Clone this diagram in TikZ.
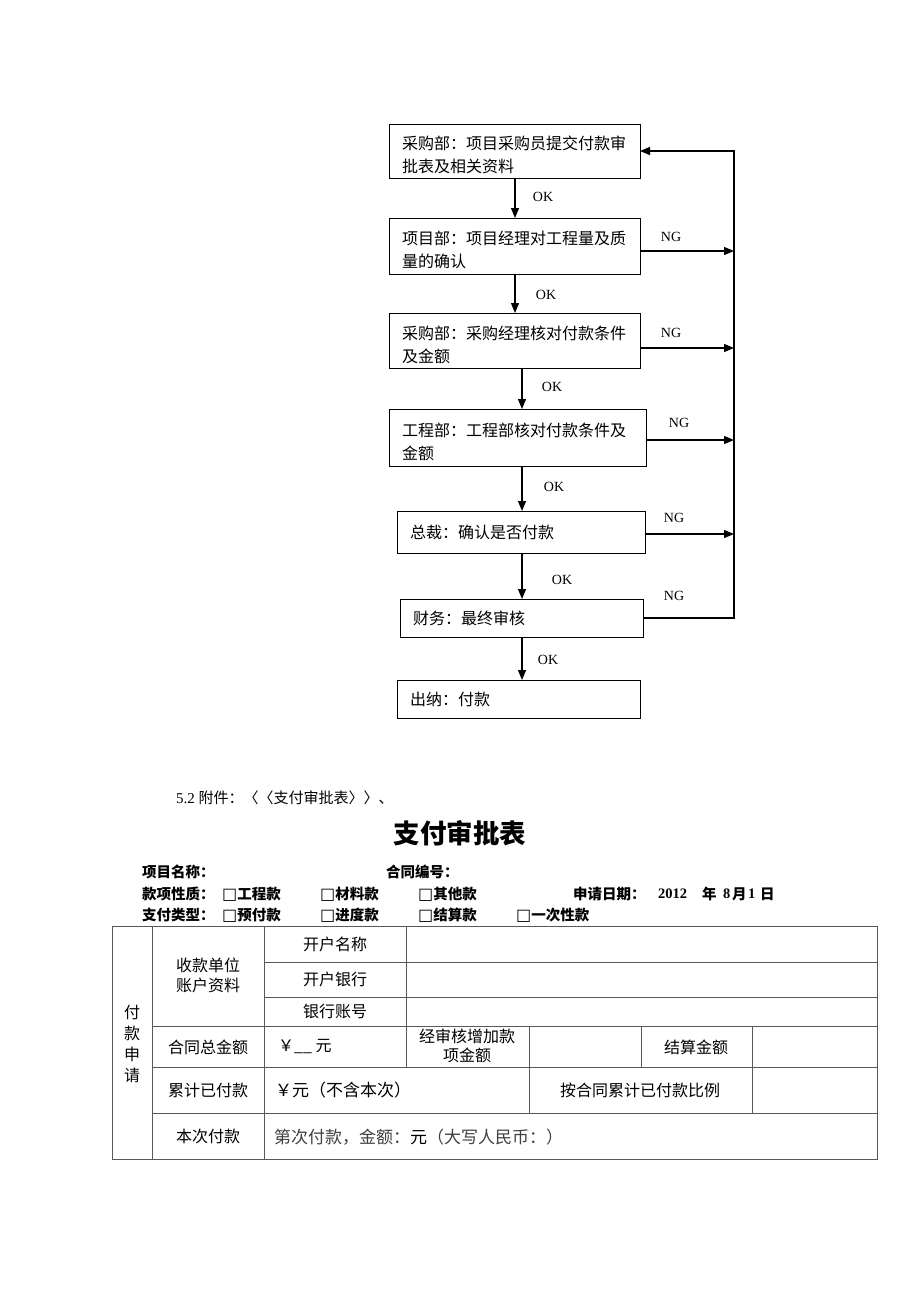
\documentclass[tikz,border=0pt]{standalone}
\usepackage{fontspec}
\setmainfont{Liberation Serif}
\newfontfamily\cjk{Noto Sans CJK SC}
\newfontfamily\dv{DejaVu Sans}
\usetikzlibrary{arrows.meta,calc}
\newcommand\sqbox{{\dv\mdseries\fontsize{16}{16}\selectfont □}}
\newcommand\ftl{\rule{0pt}{22pt}}
\begin{document}
\begin{tikzpicture}[x=1pt,y=-1pt,
  box/.style={draw, line width=1pt, anchor=north west, inner xsep=13pt, inner ysep=0pt, outer sep=0pt, align=left, font=\cjk\fontsize{16}{23}\selectfont},
  arr/.style={line width=1.2pt, -{Triangle[length=10pt,width=8pt]}},
  lab/.style={font=\fontsize{14}{16}\selectfont, inner sep=0pt},
  tl/.style={draw=black!65, line width=1pt},
  cell/.style={font=\cjk\fontsize{16}{20}\selectfont, inner sep=0pt, align=center},
  hd/.style={font=\cjk\bfseries\fontsize{14.5}{16}\selectfont, inner sep=0pt, anchor=west},
  dt/.style={font=\bfseries\fontsize{14.5}{16}\selectfont, inner sep=0pt, anchor=west},
]
\fill[white] (0,0) rectangle (920,1302);
\useasboundingbox (0,0) rectangle (920,1302);

% ---------------- flowchart ----------------
\node[box, text width=225pt, minimum height=54pt] (b1) at (389,124) {\ftl 采购部：项目采购员提交付款审\\批表及相关资料};
\node[box, text width=225pt, minimum height=56pt] (b2) at (389,218) {\ftl 项目部：项目经理对工程量及质\\量的确认};
\node[box, text width=225pt, minimum height=55pt] (b3) at (389,313) {\ftl 采购部：采购经理核对付款条件\\及金额};
\node[box, text width=231pt, minimum height=57pt] (b4) at (389,409) {\ftl 工程部：工程部核对付款条件及\\金额};
\node[box, text width=222pt, minimum height=42pt] (b5) at (397,511) {总裁：确认是否付款};
\node[box, text width=217pt, minimum height=38pt] (b6) at (400,599) {财务：最终审核};
\node[box, text width=217pt, minimum height=38pt] (b7) at (397,680) {出纳：付款};

\coordinate (xa) at (515,0);
\coordinate (xb) at (522,0);
\coordinate (R) at (734,151);

\draw[arr] (b1.south -| xa) -- (b2.north -| xa);
\draw[arr] (b2.south -| xa) -- (b3.north -| xa);
\draw[arr] (b3.south -| xb) -- (b4.north -| xb);
\draw[arr] (b4.south -| xb) -- (b5.north -| xb);
\draw[arr] (b5.south -| xb) -- (b6.north -| xb);
\draw[arr] (b6.south -| xb) -- (b7.north -| xb);

\draw[arr] ([yshift=-5pt]b2.east) -- ([yshift=-5pt]b2.east -| R);
\draw[arr] ([yshift=-7.5pt]b3.east) -- ([yshift=-7.5pt]b3.east -| R);
\draw[arr] ([yshift=-2.5pt]b4.east) -- ([yshift=-2.5pt]b4.east -| R);
\draw[arr] ([yshift=-2pt]b5.east) -- ([yshift=-2pt]b5.east -| R);
\draw[arr, line join=miter] (b6.east) -- (b6.east -| R) -- (R) -- (R -| b1.east);

\node[lab] (ok1) at (543,197) {OK};
\node[lab] (ok2) at (546,295) {OK};
\node[lab] (ok3) at (552,387) {OK};
\node[lab] (ok4) at (554,487) {OK};
\node[lab] (ok5) at (562,580) {OK};
\node[lab] (ok6) at (548,660) {OK};
\node[lab] (ng2) at (671,237) {NG};
\node[lab] (ng3) at (671,333) {NG};
\node[lab] (ng4) at (679,423) {NG};
\node[lab] (ng5) at (674,518) {NG};
\node[lab] (ng6) at (674,596) {NG};

% ---------------- attachment ----------------
\node[anchor=west, inner sep=0pt, font=\fontsize{15}{18}\selectfont] (att) at (176,798) {5.2 {\cjk 附件：〈〈支付审批表〉〉、}};
\node[font=\cjk\bfseries\fontsize{26.5}{30}\selectfont, inner sep=0pt] (title) at (460,833) {支付审批表};

\node[hd] (h1) at (142,872) {项目名称：};
\node[hd] (h2) at (386,872) {合同编号：};
\node[hd] (h3) at (142,894) {款项性质：};
\node[hd] (h4) at (222,894) {\sqbox 工程款};
\node[hd] (h5) at (320,894) {\sqbox 材料款};
\node[hd] (h6) at (418,894) {\sqbox 其他款};
\node[hd] (h7) at (573,894) {申请日期：};
\node[dt] (d1) at (658,894) {2012};
\node[hd] (d2) at (702,894) {年};
\node[dt] (d3) at (723,894) {8};
\node[hd] (d4) at (732,894) {月};
\node[dt] (d5) at (748,894) {1};
\node[hd] (d6) at (760,894) {日};
\node[hd] (h8) at (142,915) {支付类型：};
\node[hd] (h9) at (222,915) {\sqbox 预付款};
\node[hd] (h10) at (320,915) {\sqbox 进度款};
\node[hd] (h11) at (418,915) {\sqbox 结算款};
\node[hd] (h12) at (516,915) {\sqbox 一次性款};

% ---------------- table ----------------
\draw[tl] (112,926) rectangle (877,1159);
\draw[tl] (152,926) -- (152,1159);
\draw[tl] (264,926) -- (264,1159);
\draw[tl] (406,926) -- (406,1067);
\draw[tl] (529,1026) -- (529,1113);
\draw[tl] (641,1026) -- (641,1067);
\draw[tl] (752,1026) -- (752,1113);
\draw[tl] (264,962) -- (877,962);
\draw[tl] (264,997) -- (877,997);
\draw[tl] (152,1026) -- (877,1026);
\draw[tl] (152,1067) -- (877,1067);
\draw[tl] (152,1113) -- (877,1113);

\node[cell, font=\cjk\fontsize{16}{21}\selectfont] (t0) at (132,1044) {付\\款\\申\\请};
\node[cell] (t1) at (208,975) {收款单位\\账户资料};
\node[cell] (t2) at (335,944) {开户名称};
\node[cell] (t3) at (335,979) {开户银行};
\node[cell] (t4) at (335,1011) {银行账号};
\node[cell] (t5) at (208,1047) {合同总金额};
\node[cell, anchor=west] (t6) at (278,1047) {￥\_\_ 元};
\node[cell, font=\cjk\fontsize{16}{19}\selectfont] (t7) at (467,1046) {经审核增加款\\项金额};
\node[cell] (t8) at (696,1047) {结算金额};
\node[cell] (t9) at (208,1090) {累计已付款};
\node[cell, anchor=west, font=\cjk\fontsize{17}{20}\selectfont] (t10) at (275,1090) {￥元（不含本次）};
\node[cell] (t11) at (640,1090) {按合同累计已付款比例};
\node[cell] (t12) at (208,1136) {本次付款};
\node[cell, anchor=west, font=\cjk\fontsize{17}{20}\selectfont] (t13) at (274,1137) {{\color{black!75}第次付款，金额：}元{\color{black!75}（大写人民币：）}};
\end{tikzpicture}
\end{document}
